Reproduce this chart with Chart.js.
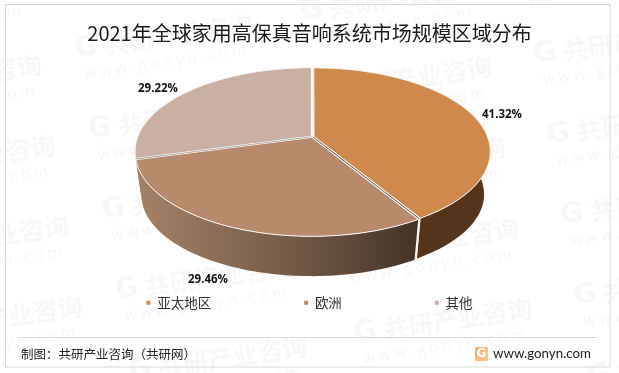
<!DOCTYPE html>
<html lang="zh">
<head>
<meta charset="utf-8">
<title>2021年全球家用高保真音响系统市场规模区域分布</title>
<script src="https://cdn.jsdelivr.net/npm/chart.js@4/dist/chart.umd.js"></script>
<style>
    html, body { margin: 0; padding: 0; background: #fff; }
    #wrap { position: relative; width: 619px; height: 373px; }
</style>
</head>
<body>
<div id="wrap"><canvas id="pieChart" width="619" height="373"></canvas></div>
<script>
const titleText = '2021年全球家用高保真音响系统市场规模区域分布';
const sourceText = '制图\uFF1A共研产业咨询\uFF08共研网\uFF09';
const categories = ['亚太地区', '欧洲', '其他'];
const shares = [41.32, 29.46, 29.22];

const topColors = ['#D0894D', '#B8896B', '#CBAFA3'];
const CJK = '"Noto Sans CJK SC", sans-serif';

// where the value labels sit, same order as categories
const labelAnchors = [[502, 115], [208, 280], [158, 89]];

// tilted disc, fitted to the picture
const disc = { x: 312.5, y: 136.7, b: 173.5, a: 81, k: 0.1786, gap: 0.009 };
const rim = { y: 180, scale: 0.965 };

// canvas angle -> screen, with a bit of perspective so the hub sits above the ellipse centre
function project(angle, mid, hubY, scale) {
    const u = Math.cos(angle);
    const v = -Math.sin(angle);
    return projectUnit(u, v, mid, hubY, scale);
}

function projectUnit(u, v, mid, hubY, scale) {
    const uu = u + Math.cos(mid) * disc.gap;
    const vv = v - Math.sin(mid) * disc.gap;
    const w = 1 / (1 + disc.k * vv);
    return [disc.x + scale * disc.b * uu * w, hubY - scale * disc.a * vv * w];
}

function midAngle(el) {
    return (el.startAngle + el.endAngle) / 2;
}

function arcPoints(el, hubY, scale) {
    const mid = midAngle(el);
    const steps = Math.ceil((el.endAngle - el.startAngle) / 0.02);
    const pts = [];
    for (let i = 0; i <= steps; i++) {
        const a = el.startAngle + (el.endAngle - el.startAngle) * i / steps;
        pts.push(project(a, mid, hubY, scale));
    }
    return pts;
}

function wallFill(ctx, index) {
    if (index === 0) return '#553419';
    if (index === 2) return '#8f7568';
    const g = ctx.createLinearGradient(138, 0, 416, 0);
    g.addColorStop(0, '#a58164');
    g.addColorStop(0.5, '#7a5e49');
    g.addColorStop(1, '#463428');
    return g;
}

function drawWatermark(ctx) {
    // brick pattern of the faint site mark: [first x, first y] of every column
    const columns = [[-150, 10], [75, 50], [300, 12], [520, -25]];
    ctx.save();
    ctx.textBaseline = 'middle';
    ctx.textAlign = 'left';
    columns.forEach(([x0, y0]) => {
        for (let r = 0; r < 6; r++) {
            ctx.save();
            ctx.translate(x0 + r * 13.5, y0 + r * 80.5);
            ctx.rotate(-8.5 * Math.PI / 180);
            ctx.fillStyle = '#f7f7f7';
            ctx.font = 'bold 28px "DejaVu Sans", sans-serif';
            ctx.fillText('G', 0, 0);
            ctx.font = 'bold 25px ' + CJK;
            ctx.fillText('共研产业咨询', 30, 0);
            ctx.font = '15px "Open Sans", sans-serif';
            ctx.fillStyle = '#f5f5f5';
            ctx.fillText('w w w . g o n y n . c o m', 6, 26);
            ctx.restore();
        }
    });
    ctx.restore();
}

// thin line down the middle of the gap between two slices
function seam(ctx, arcs, i, color) {
    const a = arcs[i].endAngle;
    const j = i + 1;
    const m1 = midAngle(arcs[i]);
    const m2 = midAngle(arcs[j]);
    const h1 = projectUnit(0, 0, m1, disc.y, 1);
    const h2 = projectUnit(0, 0, m2, disc.y, 1);
    const e1 = project(a, m1, disc.y, 1);
    const e2 = project(a, m2, disc.y, 1);
    ctx.beginPath();
    ctx.moveTo((h1[0] + h2[0]) / 2, (h1[1] + h2[1]) / 2);
    ctx.lineTo((e1[0] + e2[0]) / 2, (e1[1] + e2[1]) / 2);
    ctx.strokeStyle = color;
    ctx.lineWidth = 0.9;
    ctx.stroke();
}

const tiltedPie = {
    id: 'tiltedPie',
    afterLayout(chart) {
        // legend spacing is wide, so its box would run off the bottom: put it back
        chart.legend.top = 296 - chart.legend.options.labels.padding;
    },
    beforeDraw(chart) {
        const ctx = chart.ctx;
        ctx.save();
        ctx.fillStyle = '#fff';
        ctx.fillRect(0, 0, chart.width, chart.height);
        ctx.restore();
        drawWatermark(ctx);
        // frame
        ctx.save();
        ctx.strokeStyle = '#d9d9d9';
        ctx.lineWidth = 1;
        ctx.strokeRect(5.5, 4.5, 604.5, 362.5);
        ctx.restore();
    },
    beforeDatasetDraw(chart, args) {
        const ctx = chart.ctx;
        const arcs = chart.getDatasetMeta(args.index).data;

        // side walls
        [2, 0, 1].forEach(i => {
            const top = arcPoints(arcs[i], disc.y, 1);
            const low = arcPoints(arcs[i], rim.y, rim.scale).reverse();
            ctx.beginPath();
            top.concat(low).forEach((p, n) => n ? ctx.lineTo(p[0], p[1]) : ctx.moveTo(p[0], p[1]));
            ctx.closePath();
            ctx.fillStyle = wallFill(ctx, i);
            ctx.fill();
        });

        // seam on the front wall between the first two slices
        const a = arcs[0].endAngle;
        const s1 = project(a, a, disc.y, 1);
        const s2 = project(a, a, rim.y, rim.scale);
        ctx.beginPath();
        ctx.moveTo(s1[0], s1[1]);
        ctx.lineTo(s2[0], s2[1]);
        ctx.strokeStyle = '#f4efe9';
        ctx.lineWidth = 1.5;
        ctx.stroke();

        // top faces
        arcs.forEach(el => {
            const hub = projectUnit(0, 0, midAngle(el), disc.y, 1);
            ctx.beginPath();
            ctx.moveTo(hub[0], hub[1]);
            arcPoints(el, disc.y, 1).forEach(p => ctx.lineTo(p[0], p[1]));
            ctx.closePath();
            ctx.fillStyle = el.options.backgroundColor;
            ctx.fill();
            ctx.strokeStyle = '#fff';
            ctx.lineWidth = 1;
            ctx.stroke();
        });

        seam(ctx, arcs, 0, '#4a382b');
        seam(ctx, arcs, 1, '#a8a29c');
        return false;
    },
    afterDraw(chart) {
        const ctx = chart.ctx;
        ctx.save();

        // value labels
        ctx.fillStyle = '#111';
        ctx.font = 'bold 11.5px "Open Sans", sans-serif';
        ctx.textAlign = 'center';
        ctx.textBaseline = 'middle';
        shares.forEach((v, i) => {
            ctx.fillText(v.toFixed(2) + '%', labelAnchors[i][0], labelAnchors[i][1]);
        });

        // footer
        ctx.strokeStyle = '#d9d9d9';
        ctx.lineWidth = 1;
        ctx.beginPath();
        ctx.moveTo(18, 337.5);
        ctx.lineTo(597, 337.5);
        ctx.stroke();

        ctx.textAlign = 'left';
        ctx.fillStyle = '#222';
        ctx.font = '12.5px ' + CJK;
        ctx.fillText(sourceText, 21, 354);
        ctx.font = '13.3px Lato, sans-serif';
        ctx.fillText('www.gonyn.com', 493, 354);

        const g = ctx.createLinearGradient(475, 347, 488, 361);
        g.addColorStop(0, '#f7a26b');
        g.addColorStop(1, '#fbd08e');
        ctx.fillStyle = g;
        ctx.beginPath();
        ctx.roundRect(475, 347, 13, 14, 1.5);
        ctx.fill();
        ctx.fillStyle = '#fff';
        ctx.font = 'bold 12px "DejaVu Sans", sans-serif';
        ctx.textAlign = 'center';
        ctx.fillText('G', 481.5, 354);
        ctx.restore();
    }
};

new Chart(document.getElementById('pieChart'), {
    type: 'pie',
    data: {
        labels: categories,
        datasets: [{
            data: shares,
            backgroundColor: topColors,
            borderWidth: 0
        }]
    },
    options: {
        responsive: false,
        animation: false,
        plugins: {
            title: {
                display: true,
                text: titleText,
                color: '#1a1a1a',
                font: { family: CJK, size: 20, weight: 'normal' },
                padding: { top: 21, bottom: 4 }
            },
            legend: {
                position: 'bottom',
                labels: {
                    boxWidth: 4,
                    boxHeight: 4,
                    padding: 93,
                    color: '#333',
                    font: { family: CJK, size: 13.5 }
                }
            },
            tooltip: { enabled: false }
        }
    },
    plugins: [tiltedPie]
});
</script>
</body>
</html>
